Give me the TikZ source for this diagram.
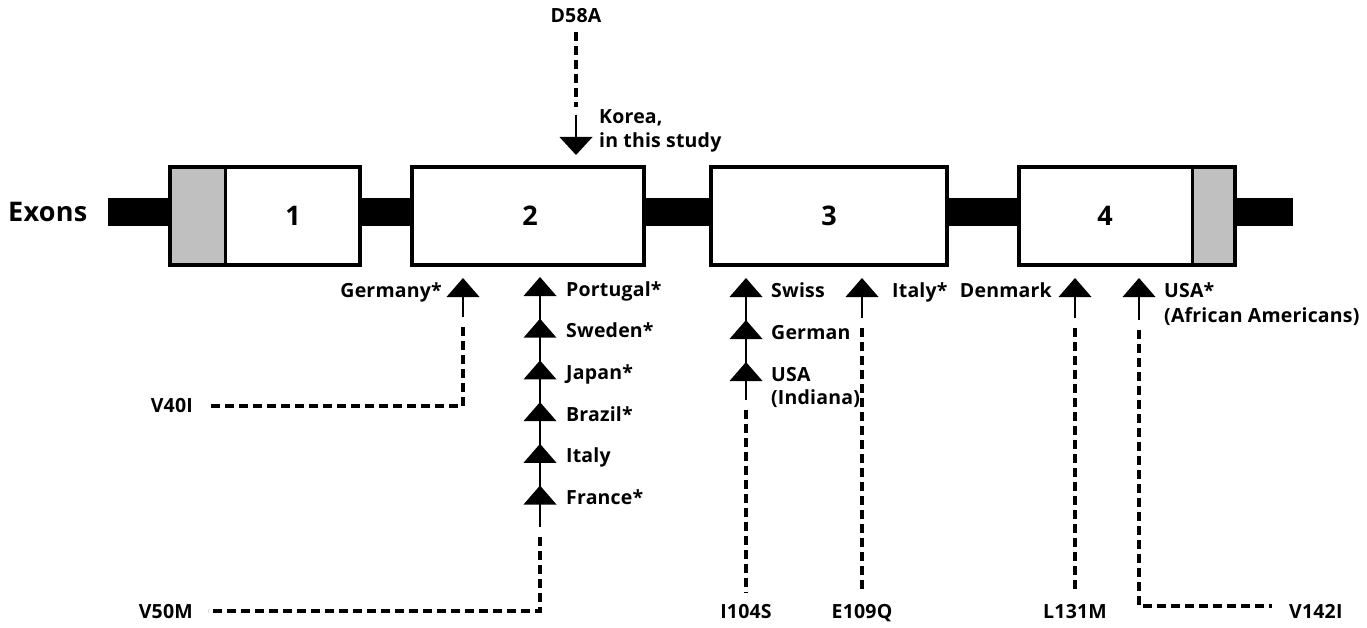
\documentclass[tikz,border=0pt]{standalone}
\usepackage{fontspec}
\setmainfont{Open Sans}[LetterSpace=1]
\begin{document}
\begin{tikzpicture}[x=1pt,y=-1pt,
  lab/.style={font=\fontsize{19.5}{24}\selectfont\bfseries, inner sep=0pt},
  big/.style={font=\fontsize{27}{30}\selectfont\bfseries, inner sep=0pt},
  exon/.style={draw, line width=4pt, fill=white, minimum height=98pt, inner sep=0pt},
  utr/.style={fill=utrgray},
  stem/.style={line width=2pt},
  dashln/.style={line width=3.2pt, dash pattern=on 9pt off 5pt},
  mkup/.pic={\fill (0,0) -- (-16.5,19) -- (16.5,19) -- cycle; \coordinate (-b) at (0,19);},
  mkdn/.pic={\fill (0,0) -- (-16.5,-18) -- (16.5,-18) -- cycle; \coordinate (-b) at (0,-18);}
]
\definecolor{utrgray}{RGB}{192,192,192}
\useasboundingbox (0,0) rectangle (1367,628);
% backbone
\fill (108,198) rectangle (1293,226);
\node[big, anchor=west] (exons) at (8,212) {Exons};
% exons
\node[exon, minimum width=190pt] (e1) at (265,216) {};
\fill[utr] (172,169) rectangle (225,263);
\draw[line width=3pt] (225,167) -- (225,265);
\node[big] (n1) at (293,216) {1};
\node[exon, minimum width=232pt] (e2) at (528,216) {};
\node[big] (n2) at (530,216) {2};
\node[exon, minimum width=236pt] (e3) at (829,216) {};
\node[big] (n3) at (829,216) {3};
\node[exon, minimum width=216pt] (e4) at (1127,216) {};
\fill[utr] (1192,169) rectangle (1233,263);
\draw[line width=3pt] (1192,167) -- (1192,265);
\node[big] (n4) at (1105,216) {4};

% D58A
\node[lab, anchor=base] (d58) at (576,23) {D58A};
\coordinate (d58a) at (576,32);
\coordinate (d58b) at (576,107);
\coordinate (d58c) at (576,115);
\draw[dashln] (d58a) -- (d58b);
\pic (kd) at (576,155) {mkdn};
\draw[stem] (d58c) -- (kd-b);
\node[lab, anchor=base west] (kor1) at (599,124) {Korea,};
\node[lab, anchor=base west] (kor2) at (599,148) {in this study};

% V40I / Germany
\pic (mg) at (463,278) {mkup};
\node[lab, anchor=base east] (lg) at (442,297) {Germany*};
\coordinate (mgs) at (463,317);
\coordinate (mgd) at (463,327);
\node[lab, anchor=base east] (v40) at (193,412) {V40I};
\coordinate (v40e) at (208,406);
\draw[stem] (mg-b) -- (mgs);
\draw[dashln] (mgd) |- (v40e);

% V50M column
\foreach \i/\t in {1/Portugal*,2/Sweden*,3/Japan*,4/Brazil*,5/Italy,6/France*}{
  \pic (p\i) at (540,{277+41.7*(\i-1)}) {mkup};
  \node[lab, anchor=base west] (lp\i) at (566,{296+41.7*(\i-1)}) {\t};
}
\coordinate (p6s) at (540,527);
\coordinate (p6d) at (540,537);
\node[lab, anchor=base east] (v50) at (193,618) {V50M};
\coordinate (v50e) at (208,611);
\draw[stem] (p1-b) -- (p6s);
\draw[dashln] (p6d) |- (v50e);

% I104S column
\foreach \i/\t in {1/Swiss,2/German,3/USA}{
  \pic (q\i) at (746,{278+42*(\i-1)}) {mkup};
  \node[lab, anchor=base west] (lq\i) at (771,{297+42*(\i-1)}) {\t};
}
\node[lab, anchor=base west] (lq4) at (771,404) {(Indiana)};
\coordinate (q3s) at (746,400);
\coordinate (q3d) at (746,410);
\node[lab, anchor=base] (i104) at (746,618) {I104S};
\coordinate (i104t) at (746,593);
\draw[stem] (q1-b) -- (q3s);
\draw[dashln] (q3d) -- (i104t);

% E109Q
\pic (r1) at (862,278) {mkup};
\node[lab, anchor=base west] (lr1) at (892,297) {Italy*};
\coordinate (r1s) at (862,318);
\coordinate (r1d) at (862,328);
\node[lab, anchor=base] (e109) at (862,618) {E109Q};
\coordinate (e109t) at (862,593);
\draw[stem] (r1-b) -- (r1s);
\draw[dashln] (r1d) -- (e109t);

% L131M
\pic (s1) at (1075,278) {mkup};
\node[lab, anchor=base east] (ls1) at (1052,297) {Denmark};
\coordinate (s1s) at (1075,318);
\coordinate (s1d) at (1075,328);
\node[lab, anchor=base] (l131) at (1075,618) {L131M};
\coordinate (l131t) at (1075,593);
\draw[stem] (s1-b) -- (s1s);
\draw[dashln] (s1d) -- (l131t);

% V142I
\pic (u1) at (1139,278) {mkup};
\node[lab, anchor=base west] (lu1) at (1164,297) {USA*};
\node[lab, anchor=base west] (lu2) at (1164,322) {(African Americans)};
\coordinate (u1s) at (1139,320);
\coordinate (u1d) at (1139,330);
\node[lab, anchor=base west] (v142) at (1289,618) {V142I};
\coordinate (v142e) at (1272,606);
\draw[stem] (u1-b) -- (u1s);
\draw[dashln] (u1d) |- (v142e);
\end{tikzpicture}
\end{document}
